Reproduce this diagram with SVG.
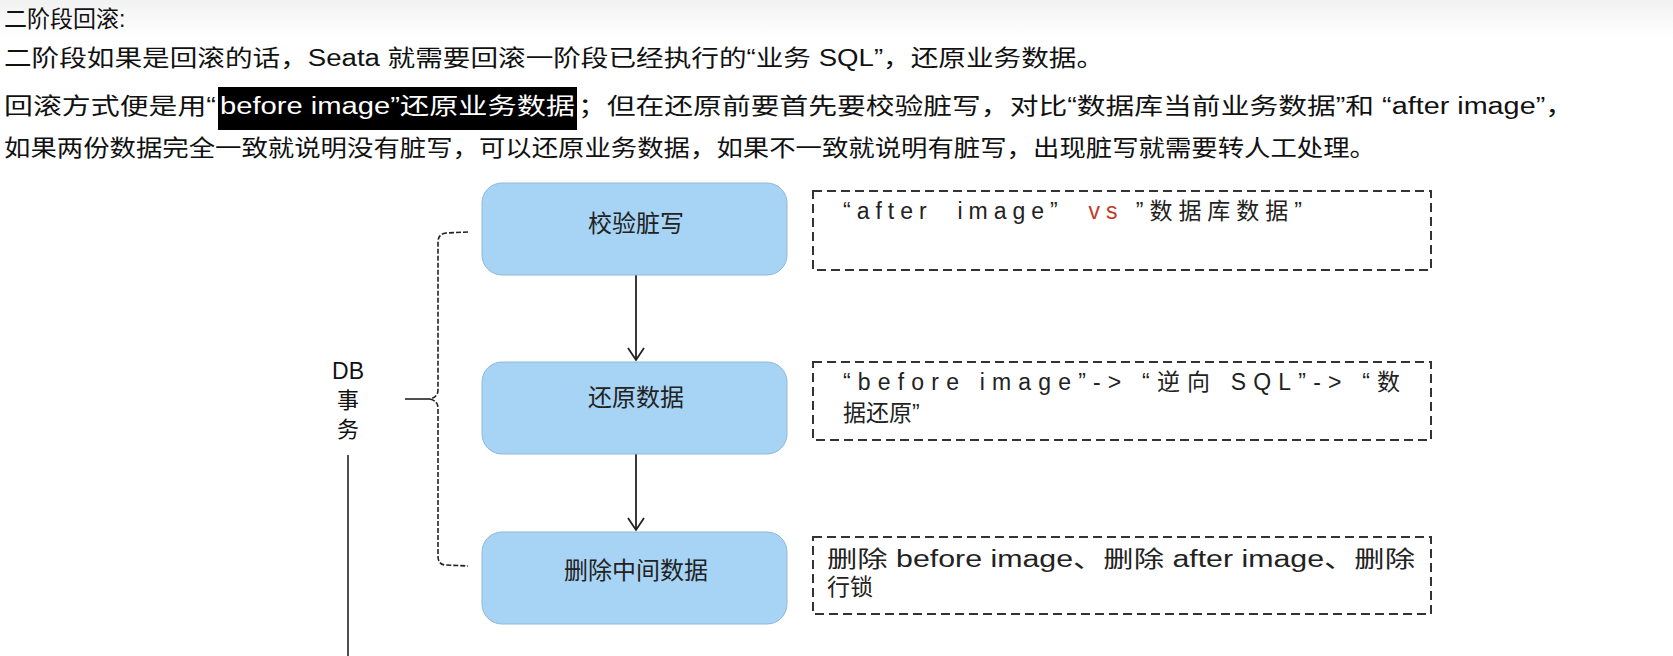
<svg xmlns="http://www.w3.org/2000/svg" width="1673" height="656" viewBox="0 0 1673 656">
<defs>
<linearGradient id="bg" x1="0" y1="0" x2="0" y2="1"><stop offset="0" stop-color="#f2f2f2"/><stop offset="1" stop-color="#ffffff"/></linearGradient>
</defs>
<style>
text{font-family:"Liberation Sans","Noto Sans CJK SC",sans-serif;fill:#111}
.p{font-size:23px}
.n{fill:#a7d4f5;stroke:#8fb8d8;stroke-width:1}
.nl{font-size:24px;text-anchor:middle;fill:#222}
.d{fill:#fff;stroke:#333;stroke-width:2;stroke-dasharray:9 5}
.dt{font-size:23px;fill:#222}
.c{fill:none;stroke:#222;stroke-width:1.8}
</style>
<rect width="1673" height="656" fill="#fff"/>
<rect width="1673" height="40" fill="url(#bg)"/>
<text class="p" x="4" y="27">二阶段回滚:</text>
<text class="p" x="4" y="66" textLength="1100" lengthAdjust="spacingAndGlyphs">二阶段如果是回滚的话，Seata 就需要回滚一阶段已经执行的“业务 SQL”，还原业务数据。</text>
<rect x="218" y="87" width="359" height="43" fill="#000"/>
<text class="p" x="4" y="114" textLength="212" lengthAdjust="spacingAndGlyphs">回滚方式便是用“</text>
<text class="p" x="220" y="114" style="fill:#fff" textLength="355" lengthAdjust="spacingAndGlyphs">before image”还原业务数据</text>
<text class="p" x="578" y="114" textLength="996" lengthAdjust="spacingAndGlyphs">；但在还原前要首先要校验脏写，对比“数据库当前业务数据”和 “after image”，</text>
<text class="p" x="4" y="156" textLength="1372" lengthAdjust="spacingAndGlyphs">如果两份数据完全一致就说明没有脏写，可以还原业务数据，如果不一致就说明有脏写，出现脏写就需要转人工处理。</text>
<g id="connectors">
<path class="c" d="M636,275 V359"/>
<path class="c" d="M628,348 L636,360 L644,348"/>
<path class="c" d="M636,453 V529"/>
<path class="c" d="M628,518 L636,530 L644,518"/>
<path d="M468,232 L446,233 Q438,234 438,242 V390 Q438,397 430,399 Q438,401 438,408 V556 Q438,565 446,565 L468,566" fill="none" stroke="#222" stroke-width="1.6" stroke-dasharray="5 2"/>
<path d="M405,399 H430" stroke="#222" stroke-width="1.6"/>
<path d="M348,455 V656" stroke="#222" stroke-width="1.6"/>
</g>
<g id="db"><text x="348" y="379" font-size="23" text-anchor="middle">DB</text><text x="348" y="408" font-size="22" text-anchor="middle">事</text><text x="348" y="437" font-size="22" text-anchor="middle">务</text></g>
<g id="n1"><rect class="n" x="482" y="183" width="305" height="92" rx="20"/><text class="nl" x="636" y="232">校验脏写</text></g>
<g id="n2"><rect class="n" x="482" y="362" width="305" height="92" rx="20"/><text class="nl" x="636" y="406">还原数据</text></g>
<g id="n3"><rect class="n" x="482" y="532" width="305" height="92" rx="20"/><text class="nl" x="636" y="579">删除中间数据</text></g>
<g id="d1"><rect class="d" x="813" y="191" width="618" height="79"/><text class="dt" x="843" y="219" textLength="459" lengthAdjust="spacing" xml:space="preserve">“after  image”  <tspan style="fill:#c0392b">vs</tspan> ”数据库数据”</text></g>
<g id="d2"><rect class="d" x="813" y="362" width="618" height="78"/><text class="dt" x="843" y="390" textLength="557" lengthAdjust="spacing">“before image”-&gt; “逆向 SQL”-&gt; “数</text><text class="dt" x="843" y="421">据还原”</text></g>
<g id="d3"><rect class="d" x="813" y="537" width="618" height="77"/><text class="dt" x="827" y="567" textLength="588" lengthAdjust="spacingAndGlyphs">删除 before image、删除 after image、删除</text><text class="dt" x="827" y="595">行锁</text></g>
</svg>
